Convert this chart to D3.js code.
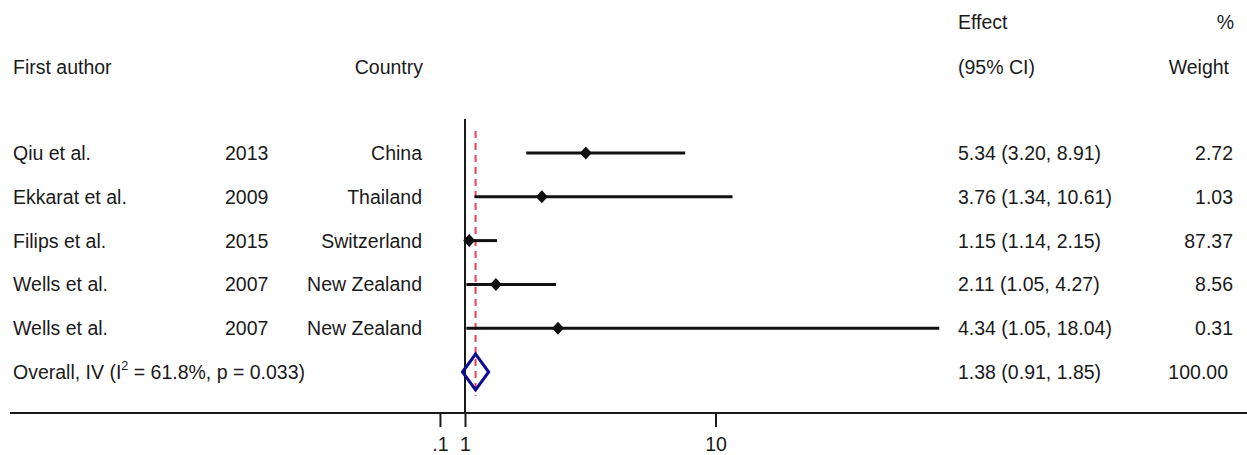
<!DOCTYPE html>
<html>
<head>
<meta charset="utf-8">
<script src="https://cdn.jsdelivr.net/npm/d3@7"></script>
<style>
  html, body { margin: 0; padding: 0; background: #fff; }
  svg text { font-family: "Liberation Sans", Arial, Helvetica, sans-serif; fill: #1a1a1a; }
</style>
</head>
<body>
<svg id="chart" width="1247" height="455"></svg>
<script>
// ---- data ----
const authors   = ["Qiu et al.", "Ekkarat et al.", "Filips et al.", "Wells et al.", "Wells et al."];
const years     = ["2013", "2009", "2015", "2007", "2007"];
const countries = ["China", "Thailand", "Switzerland", "New Zealand", "New Zealand"];
const effects   = [5.34, 3.76, 1.15, 2.11, 4.34];
const lowerCI   = [3.20, 1.34, 1.14, 1.05, 1.05];
const upperCI   = [8.91, 10.61, 2.15, 4.27, 18.04];
const weights   = [2.72, 1.03, 87.37, 8.56, 0.31];
const overall   = { effect: 1.38, lower: 0.91, upper: 1.85, weight: 100.00 };
const overallLabelPre  = "Overall, IV (I";
const overallLabelSup  = "2";
const overallLabelPost = " = 61.8%, p = 0.033)";
const tickValues = [0.1, 1, 10];
const tickLabels = [".1", "1", "10"];

// ---- layout ----
const W = 1247, H = 455;
const svg = d3.select("#chart");
const fs = 19.5;

const x = d3.scaleLinear().domain([1, 10]).range([465, 715.5]);
const y = d3.scalePoint().domain(d3.range(6)).range([153, 372]);
const axisY = 413;

const fmt = d3.format(".2f");

// headers
const hdr = svg.append("g").attr("font-size", fs);
hdr.append("text").attr("x", 13).attr("y", 74).text("First author");
hdr.append("text").attr("x", 423).attr("y", 74).attr("text-anchor", "end").text("Country");
hdr.append("text").attr("x", 958).attr("y", 29).text("Effect");
hdr.append("text").attr("x", 958).attr("y", 74).text("(95% CI)");
hdr.append("text").attr("x", 1234).attr("y", 29).attr("text-anchor", "end").text("%");
hdr.append("text").attr("x", 1229).attr("y", 74).attr("text-anchor", "end").text("Weight");

// null line at 1
svg.append("line")
  .attr("x1", x(1)).attr("x2", x(1))
  .attr("y1", 119).attr("y2", axisY)
  .attr("stroke", "#1a1a1a").attr("stroke-width", 2);

// overall effect dashed line
svg.append("line")
  .attr("x1", x(overall.effect)).attr("x2", x(overall.effect))
  .attr("y1", 131).attr("y2", 396)
  .attr("stroke", "#e8404f").attr("stroke-width", 2)
  .attr("stroke-dasharray", "7,5");

// study rows
const rows = svg.append("g").attr("font-size", fs);
effects.forEach((e, i) => {
  const yy = y(i);
  rows.append("text").attr("x", 13).attr("y", yy + 7).text(authors[i]);
  rows.append("text").attr("x", 225).attr("y", yy + 7).text(years[i]);
  rows.append("text").attr("x", 422).attr("y", yy + 7).attr("text-anchor", "end").text(countries[i]);
  rows.append("text").attr("x", 958).attr("y", yy + 7)
    .text(`${fmt(e)} (${fmt(lowerCI[i])}, ${fmt(upperCI[i])})`);
  rows.append("text").attr("x", 1233).attr("y", yy + 7).attr("text-anchor", "end").text(fmt(weights[i]));

  rows.append("line")
    .attr("x1", x(lowerCI[i])).attr("x2", x(upperCI[i]))
    .attr("y1", yy).attr("y2", yy)
    .attr("stroke", "#111").attr("stroke-width", 3);
  const cx = x(e);
  rows.append("path")
    .attr("d", `M${cx},${yy-6.5}L${cx+6},${yy}L${cx},${yy+6.5}L${cx-6},${yy}Z`)
    .attr("fill", "#111");
});

// overall row
const yo = y(5);
const ot = rows.append("text").attr("x", 13).attr("y", yo + 7);
ot.append("tspan").text(overallLabelPre);
ot.append("tspan").attr("font-size", 12.5).attr("dy", -9).text(overallLabelSup);
ot.append("tspan").attr("dy", 9).text(overallLabelPost);
rows.append("text").attr("x", 958).attr("y", yo + 7)
  .text(`${fmt(overall.effect)} (${fmt(overall.lower)}, ${fmt(overall.upper)})`);
rows.append("text").attr("x", 1228).attr("y", yo + 7).attr("text-anchor", "end").text(fmt(overall.weight));

svg.append("path")
  .attr("d", `M${x(overall.lower)},${yo}L${x(overall.effect)},${yo-18}L${x(overall.upper)},${yo}L${x(overall.effect)},${yo+18}Z`)
  .attr("fill", "none").attr("stroke", "#0d0d8f").attr("stroke-width", 3);

// x axis
svg.append("line")
  .attr("x1", 10).attr("x2", W)
  .attr("y1", axisY).attr("y2", axisY)
  .attr("stroke", "#1a1a1a").attr("stroke-width", 2);

const axis = d3.axisBottom(x)
  .tickValues(tickValues)
  .tickFormat((d, i) => tickLabels[i])
  .tickSize(14)
  .tickSizeOuter(0)
  .tickPadding(10);
const ag = svg.append("g").attr("transform", `translate(0,${axisY})`).call(axis);
ag.select(".domain").remove();
ag.selectAll(".tick line").attr("stroke", "#1a1a1a").attr("stroke-width", 2);
ag.selectAll(".tick text").attr("font-size", fs).attr("fill", "#1a1a1a")
  .attr("font-family", "Liberation Sans, Arial, sans-serif");
</script>
</body>
</html>
